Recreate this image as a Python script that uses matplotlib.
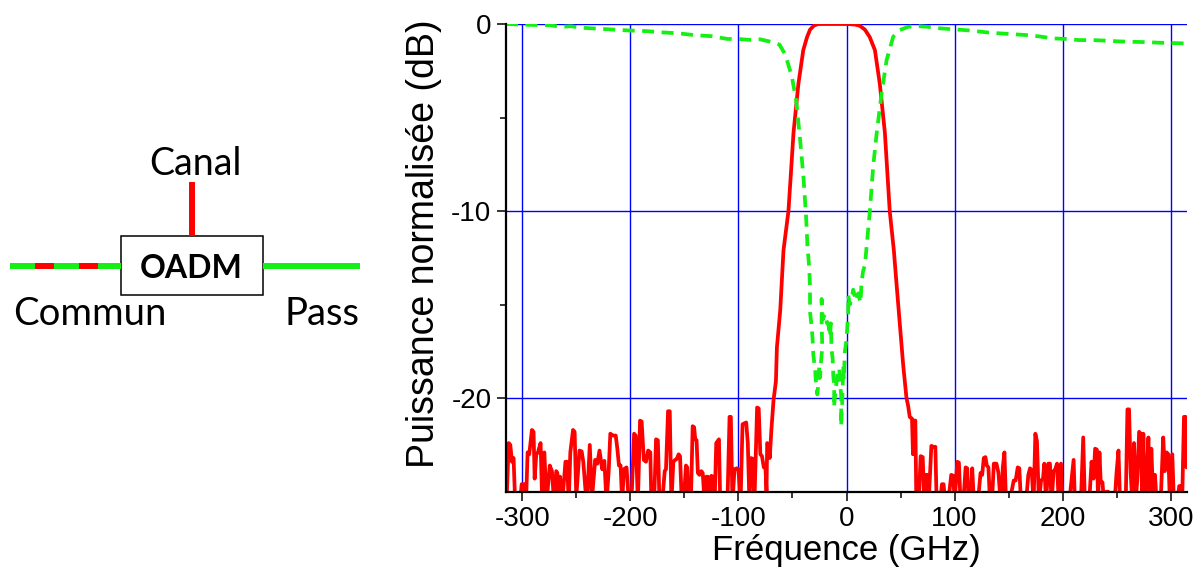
import numpy as np
import matplotlib
matplotlib.use("Agg")
import matplotlib.pyplot as plt
from matplotlib.patches import Rectangle

plt.rcParams["axes.unicode_minus"] = False

# niveau du bruit (sous l'axe, coupe par le cadre)
F = -25.6

# canal (rouge) : bruit a gauche
canal_g_f = [-314.5, -312.5, -311, -309.5, -308, -306.5, -302, -300.5, -298, -296.5, -295, -293.5, -291, -289.5,
             -288.5, -287, -285.5, -283, -281.5, -279.5, -277.5, -274.5, -272.5, -270.5, -268.5, -267.5, -266, -265,
             -263, -260, -258.5, -257, -255.5, -253, -251.5, -250, -247, -245, -243.5, -241.5, -239.5, -237.5,
             -235.5, -232.5, -230.5, -228.5, -226, -224, -222, -220, -218.5, -216, -213.5, -212, -210.5, -209,
             -207.5, -206, -203.5, -201.5, -199, -196.5, -195, -193, -191, -189.5, -187.5, -185.5, -183.5, -181.5,
             -180.5, -178, -176.2, -174.5, -173, -170.5, -168.2, -167, -165.1, -163.5, -162, -160.2, -158.5, -157,
             -155.3, -154, -152.5, -150.5, -148.5, -147.3, -146, -144, -142.3, -141, -139.9, -138.7, -137.5, -136,
             -134.3, -133, -131.5, -129.7, -128.2, -127, -125, -123.5, -122, -120.5, -119.3, -118, -116.8, -114.3,
             -111.3, -110, -108.2, -107, -105.5, -103.6, -101.5, -100, -98, -96.2, -94.7, -92.8, -91.3, -89.8,
             -88.2, -86.7, -85.2, -82.7, -81.2, -79.7, -78.2, -76.5, -75, -74]
canal_g_db = [F, -22.4, -22.5, -23.4, -23.2, F, F, -24.6, -24.6, F, -22.9, -23.0, -21.7, -21.8,
              -24.3, -23.0, -22.9, -22.4, F, -22.9, F, -23.6, -23.9, F, -23.9, -24.0, F, -24.2,
              F, -23.4, -23.4, F, -22.9, -21.7, -21.8, -25.3, -22.8, -22.85, -23.4, -24.9, -24.9, -22.5,
              -25.4, -23.3, -23.5, -22.8, -23.8, -23.35, F, -23.9, -21.9, -22.0, -22.0, -22.7, -23.6, -23.6,
              F, -23.8, -23.7, -25.4, F, -21.9, -22.0, F, -21.2, -21.25, -23.3, -23.4, -22.8, -22.9,
              F, F, -22.2, -22.25, F, F, -23.9, -23.8, -20.7, -20.7, F, -23.4, -23.3, -23.25,
              -23.0, -23.1, -25.4, -25.4, -23.6, -23.7, F, F, -21.5, -21.55, -22.2, -22.25, -24.0, -24.1,
              -23.9, -24.0, -25.4, -24.2, -24.2, F, -24.15, -24.2, F, -22.4, -22.3, -22.2, F, F,
              -25.2, -25.2, -21.0, -21.0, F, -23.8, -23.75, -23.8, F, -21.4, -21.35, -21.3, -22.4, F,
              -23.2, -23.25, F, -20.5, -20.55, -23.0, -23.1, -23.7, -23.7, -25.0]

# canal : bande passante
canal_bp_f = [-73.4, -72.3, -71, -69.5, -67.5, -65.3, -64.4, -61.3, -58.3, -53.7, -49, -44.5, -40, -36.5,
              -33.7, -30, -26, -15, 0, 8, 12.5, 17, 21.5, 26.3, 30.8, 35.5, 40, 43.8, 46.3, 52.4, 55.5,
              57, 58.5, 60.6, 61.5, 62.3, 63.7]
canal_bp_db = [-22.4, -22.5, -23.2, -21.7, -20.1, -19.1, -17.3, -15.3, -12.1, -10.0, -5.8, -3.2, -1.4, -0.7,
               -0.3, -0.08, 0, 0, 0, -0.03, -0.1, -0.3, -0.7, -1.4, -3.2, -5.8, -10.0, -12.1, -13.9, -18.2, -20.0,
               -20.4, -21.0, -21.1, -23.0, -21.2, -21.2]

# canal : bruit a droite
canal_d_f = [64.6, 67, 68.6, 70.5, 72, 73.5, 74.7, 76, 78.5, 80.3, 82.2, 83.4, 85.3, 86.5, 88.3, 89.8, 91.4, 94,
             96.9, 98.8, 100, 102.5, 104, 105.5, 108, 110.2, 111.7, 113, 114.8, 116.3, 117.9, 121.5, 124, 125.5,
             127, 128.5, 129.8, 131.3, 132.8, 134.7, 136.3, 138.7, 140.6, 142.1, 143.6, 144.6, 146.1, 147.6,
             150.7, 154.7, 156.5, 158.4, 159.9, 161.4, 166, 168.2, 169.8, 171.3, 173.1, 174.7, 176.2, 178, 180,
             181.8, 183, 184.6, 186.7, 188.2, 189.7, 191.6, 193.1, 194.8, 196.3, 198.4, 199.9, 204.5, 206, 210.1,
             211.3, 216.8, 219, 220.5, 224.5, 226.7, 228.5, 230, 231.6, 232.8, 234, 235.2, 236.8, 238.3, 240.4,
             242, 243.5, 248, 249.8, 251.6, 253.1, 258.3, 259.9, 261.4, 262.9, 264.4, 266, 267.5, 269, 270.7,
             272.2, 273.7, 274.6, 276.1, 277.7, 279.3, 280.8, 282, 283.9, 285.4, 286.9, 290.6, 293, 294.5, 296.2,
             297.7, 299.2, 301.4, 302.9, 305.9, 307.8, 309.3, 310.5, 312.2, 313.7, 314.6, 315]
canal_d_db = [F, -25.3, -23.1, -23.15, F, -24.1, -24.1, F, -22.55, -22.6, -22.6, F, -25.2, F, -24.6, -24.6, F, F,
              -24.1, -24.15, F, -23.4, -23.45, F, F, -23.7, -23.75, F, F, -23.75, F, F, -24.0, -24.1,
              -23.2, -23.15, -23.6, -23.7, F, -25.4, -23.5, -23.5, -24.0, -25.2, F, -23.7, -22.9, F,
              F, -24.4, -24.4, -23.7, -23.75, F, F, -24.1, -23.75, -23.85, F, -21.9, -22.3, F, -24.4,
              -24.3, -23.5, F, -23.5, -23.5, F, -23.9, -23.8, -23.5, F, -23.5, F, -25.5, F, -23.3,
              F, F, -22.1, F, F, -23.4, -24.3, -22.7, -22.75, F, -22.9, -24.5, -24.5, F, -25.0,
              -25.0, F, F, -24.0, -22.8, F, F, -20.6, -20.6, -24.0, F, -22.4, -25.5, -24.4, -21.8,
              -21.9, F, -21.9, F, -24.3, -22.1, F, -22.7, F, -24.1, F, F, -22.1, -23.9, -22.9,
              -23.0, F, -23.0, F, F, -24.7, -24.7, F, -21.0, -21.0, -23.7, -23.5]

# pass (vert pointille)
pass_f = [-315, -300, -290, -275, -265, -255, -245, -230, -215, -200, -185, -170, -155, -140, -125, -110, -100,
          -90, -80, -70, -62, -57, -55, -50.6, -46.5, -42.9, -39.8, -37.4, -36.1, -34.5, -33.8, -33.7, -32.2,
          -31.3, -30.7, -29.1, -28.2, -27, -26.5, -25.2, -24.5, -23.5, -22.4, -23, -23, -22, -20, -18, -16.9,
          -15.3, -14.5, -13.8, -12.8, -12.2, -11.3, -11.6, -10, -8, -6.7, -6.0, -4.9, -4.9, -5, -4.0, -3, -2.4,
          -1.5, 0, 0.7, 1.6, 1.6, 3.1, 5, 6.2, 8.7, 10.8, 13, 13.9, 15.4, 17, 18.3, 21.6, 24.7, 27.8, 32.5,
          37.1, 43.2, 49.4, 57, 64.8, 75, 86.3, 100, 108, 116.7, 130, 141.6, 155, 166, 178, 190.7, 203, 215.4,
          228, 240, 252, 264.5, 277, 289, 302, 315]
pass_db = [0.0, -0.03, -0.05, -0.06, -0.15, -0.12, -0.2, -0.25, -0.3, -0.35, -0.38, -0.45, -0.5, -0.6, -0.65,
           -0.8, -0.8, -0.85, -0.82, -0.95, -1.1, -1.6, -1.95, -2.8, -4.1, -6.2, -8.2, -10.3, -11.9, -13.0, -14.0,
           -15.4, -16.2, -16.9, -17.7, -18.4, -19.2, -19.8, -19.5, -18.3, -18.9, -18.0, -17.3, -16.0, -14.7,
           -15.8, -15.5, -16.0, -16.0, -16.7, -16.0, -17.4, -17.9, -18.8, -19.4, -20.5, -19.5, -18.6, -18.4,
           -19.1, -19.9, -20.5, -21.5, -20.3, -18.3, -19.0, -17.5, -16.9, -16.2, -15.5, -14.5, -15.0, -14.6,
           -14.2, -14.8, -14.4, -14.9, -13.8, -13.2, -12.9, -12.1, -10.0, -7.6, -5.9, -3.7, -1.93, -0.68, -0.32,
           -0.15, -0.11, -0.15, -0.23, -0.29, -0.32, -0.36, -0.45, -0.5, -0.55, -0.59, -0.66, -0.77, -0.8, -0.86,
           -0.86, -0.89, -0.93, -0.95, -0.97, -1.0, -1.02, -1.04]

x_ticks = [-300, -200, -100, 0, 100, 200, 300]
y_ticks = [0, -10, -20]

rouge = "#ff0000"
vert = "#14f014"

canal_f = canal_g_f + canal_bp_f + canal_d_f
canal_db = canal_g_db + canal_bp_db + canal_d_db

fig = plt.figure(figsize=(12.01, 5.74), dpi=100)

ax = fig.add_axes([506 / 1201, 82.3 / 574, 681 / 1201, 467.7 / 574])
ax.plot(canal_f, canal_db, color=rouge, lw=2.7, zorder=3)
ax.plot(pass_f, pass_db, color=vert, lw=2.7, linestyle=(0, (3.2, 2.0)), zorder=4)

ax.set_xlim(-315, 315)
ax.set_ylim(-25, 0)
ax.set_xticks(x_ticks)
ax.set_yticks(y_ticks)
ax.set_xticks([-250, -150, -50, 50, 150, 250], minor=True)
ax.set_yticks([-5, -15], minor=True)
ax.grid(True, which="major", color="#0000ff", lw=1.0)
ax.set_axisbelow(True)
for s in ["top", "right"]:
    ax.spines[s].set_visible(False)
for s in ["left", "bottom"]:
    ax.spines[s].set_linewidth(1.6)
    ax.spines[s].set_zorder(5)
ax.tick_params(which="major", direction="out", length=6.5, width=1.1, labelsize=20, pad=4)
ax.tick_params(which="minor", direction="out", length=4.5, width=1.1)
for lab in ax.get_xticklabels() + ax.get_yticklabels():
    lab.set_family("Liberation Sans")
ax.set_xlabel("Fréquence (GHz)", family="Liberation Sans", fontsize=25, labelpad=1)
ax.set_ylabel("Puissance normalisée (dB)", family="Liberation Sans", fontsize=27)
ax.yaxis.set_label_coords(-0.094, 0.53)

# schema OADM a gauche, en pixels
sch = fig.add_axes([0, 0, 1, 1])
sch.set_xlim(0, 1201)
sch.set_ylim(574, 0)
sch.set_axis_off()
lw_fil = 4.3
y_fil = 265.7
morceaux = [(10, 35, vert), (35, 54, rouge), (54, 79, vert), (79, 98, rouge), (98, 121, vert), (263, 360, vert)]
for a, b, c in morceaux:
    sch.plot([a, b], [y_fil, y_fil], color=c, lw=lw_fil, solid_capstyle="butt")
sch.plot([192.3, 192.3], [181.7, 236], color=rouge, lw=lw_fil, solid_capstyle="butt")
sch.add_patch(Rectangle((121, 236), 142, 59, fill=False, edgecolor="black", lw=1.1))
sch.text(191.5, 278.3, "OADM", ha="center", va="baseline", fontsize=23, fontweight="bold", family="Lato")
sch.text(195.3, 175, "Canal", ha="center", va="baseline", fontsize=27, family="Lato")
sch.text(13, 325, "Commun", ha="left", va="baseline", fontsize=27.5, family="Lato")
sch.text(285, 325, "Pass", ha="left", va="baseline", fontsize=27.5, family="Lato")

fig.savefig("out.png", dpi=100)
